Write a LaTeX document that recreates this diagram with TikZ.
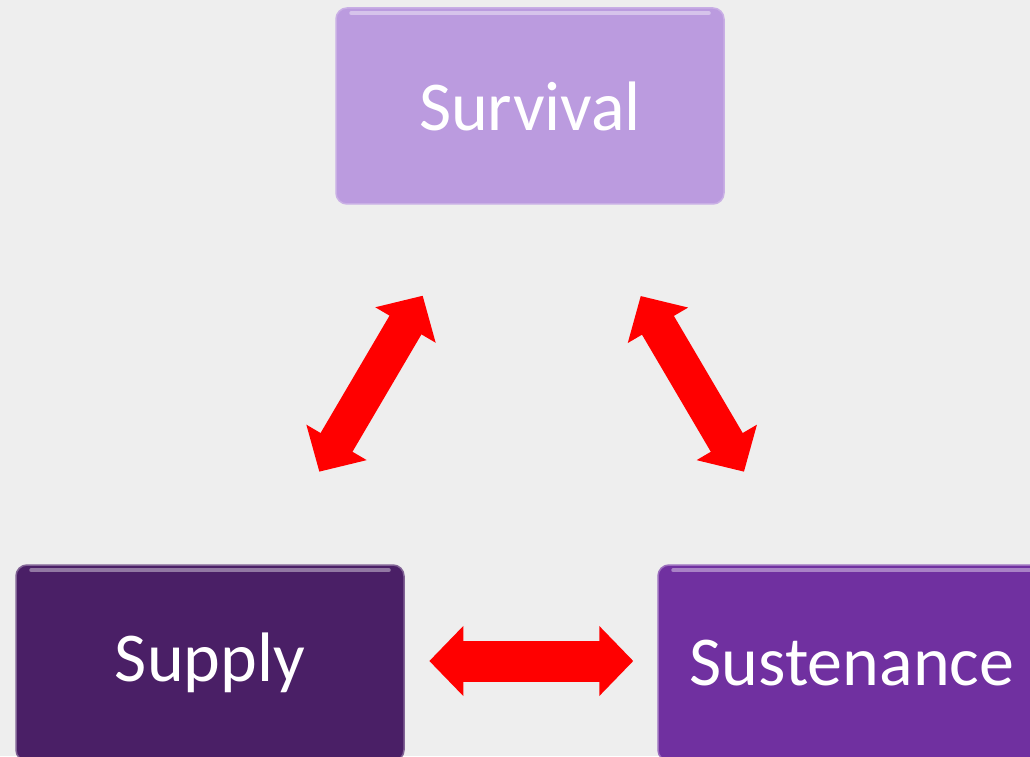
\documentclass[tikz,border=0pt]{standalone}
\usepackage{fontspec}
\setmainfont{Carlito}
\usetikzlibrary{arrows.meta}
\definecolor{bg}{HTML}{EEEEEE}
\definecolor{svcol}{HTML}{BB9BDF}
\definecolor{sucol}{HTML}{4A1F66}
\definecolor{stcol}{HTML}{7030A0}
\definecolor{arr}{HTML}{FF0000}
\tikzset{
  box/.style={rectangle, rounded corners=11pt, minimum width=388pt, minimum height=196pt,
    inner sep=0pt, text=white, font=\fontsize{70}{78}\selectfont},
  hl/.style={line width=4pt, line cap=round, opacity=0.4, draw=white},
  dbl/.style={draw=arr, line width=#1,
    {Triangle[length=34pt,width=68pt]}-{Triangle[length=34pt,width=68pt]}},
}
\begin{document}
\begin{tikzpicture}[x=1pt,y=1pt]
\useasboundingbox (0,0) rectangle (1030,756);
\fill[bg] (0,0) rectangle (1030,756);
\clip (0,0) rectangle (1030,756);
% boxes
\node[box, fill=svcol, draw=svcol!80!white, line width=1.5pt] (sv) at (530,650) {Survival};
\node[box, fill=sucol, draw=sucol!70!white, line width=1.5pt] (su) at (210,93) {Supply};
\node[box, fill=stcol, draw=stcol!70!white, line width=1.5pt] (st) at (852,93) {Sustenance};
% glossy highlights
\draw[hl] ([xshift=16pt,yshift=-6pt]sv.north west) -- ([xshift=-16pt,yshift=-6pt]sv.north east);
\draw[hl] ([xshift=16pt,yshift=-6pt]su.north west) -- ([xshift=-16pt,yshift=-6pt]su.north east);
\draw[hl] ([xshift=16pt,yshift=-6pt]st.north west) -- ([xshift=-16pt,yshift=-6pt]st.north east);
% arrow end points
\coordinate (l1) at (319.3,284.3);
\coordinate (l2) at (422.7,460.3);
\coordinate (r1) at (640.7,460.0);
\coordinate (r2) at (744.0,284.3);
\coordinate (h1) at (429.3,95);
\coordinate (h2) at (633.3,95);
\draw[dbl=37pt] (l1) -- (l2);
\draw[dbl=37pt] (r1) -- (r2);
\draw[dbl=41pt] (h1) -- (h2);
\end{tikzpicture}
\end{document}
